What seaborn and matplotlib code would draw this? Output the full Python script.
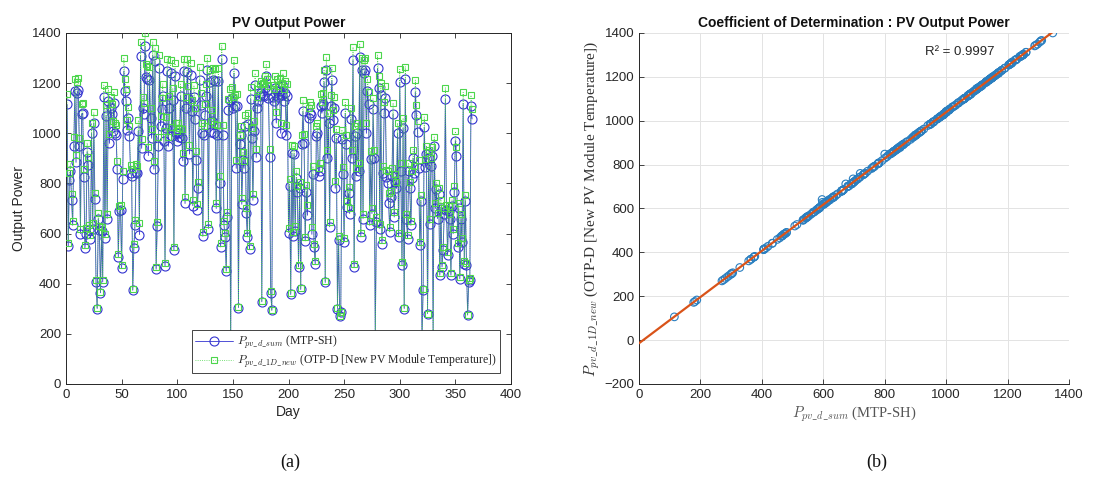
import matplotlib
matplotlib.use('Agg')
import matplotlib.pyplot as plt
import seaborn as sns
import numpy as np

##################################################################################
# data
##################################################################################
DAYS = list(range(1, 366))

# P_pv_d_sum (MTP-SH), one value per day
MTP_SH = [
    1115, 550, 812, 850, 733, 633, 948, 1170, 884, 1160,
    1173, 948, 600, 1075, 1080, 827, 543, 600, 927, 873,
    613, 580, 1000, 620, 1041, 737, 407, 301, 660, 613,
    364, 610, 407, 1144, 584, 1070, 660, 1130, 960, 1100,
    1075, 1010, 1120, 1000, 993, 857, 507, 690, 693, 463,
    817, 1248, 1170, 1130, 1013, 1060, 990, 843, 828, 374,
    543, 633, 844, 840, 1010, 596, 1308, 940, 1100, 1077,
    1347, 1224, 1215, 911, 1213, 1060, 980, 1311, 857, 1288,
    458, 629, 951, 1260, 1030, 1097, 1150, 971, 471, 1020,
    1248, 948, 1100, 1240, 990, 1133, 534, 1227, 1000, 971,
    1000, 985, 1150, 980, 890, 1247, 720, 1100, 1244, 1140,
    917, 1231, 1090, 711, 1144, 1057, 895, 695, 780, 1213,
    1113, 1000, 589, 993, 1071, 1150, 1251, 620, 1204, 1007,
    1050, 1211, 1000, 1207, 700, 993, 1210, 800, 547, 1297,
    993, 633, 587, 450, 666, 1093, 1131, 115, 1140, 1100,
    1240, 1107, 860, 1110, 305, 957, 993, 717, 893, 860,
    1030, 683, 587, 1037, 538, 1137, 983, 733, 1010, 1191,
    904, 1100, 1130, 1148, 1160, 328, 1153, 1150, 1180, 1227,
    1170, 1140, 904, 364, 294, 1144, 1130, 1180, 1041, 1170,
    1144, 1170, 1000, 1153, 1190, 1130, 1160, 993, 1150, 604,
    791, 357, 920, 590, 917, 610, 820, 764, 467, 780,
    377, 957, 1087, 960, 571, 767, 673, 1060, 1080, 1071,
    597, 837, 547, 480, 990, 1000, 831, 850, 1110, 1080,
    1117, 1204, 405, 1251, 900, 1040, 627, 1107, 1211, 1051,
    1100, 781, 980, 301, 576, 270, 288, 977, 837, 567,
    1080, 957, 706, 760, 680, 1057, 900, 1291, 467, 990,
    831, 1000, 850, 1304, 587, 1251, 660, 1240, 1251, 1000,
    1170, 1117, 633, 897, 680, 1095, 900, 182, 646, 1260,
    1181, 620, 1153, 560, 840, 1080, 1141, 824, 800, 720,
    607, 744, 830, 1077, 666, 807, 780, 1000, 587, 1204,
    850, 476, 1020, 301, 1215, 660, 580, 850, 780, 633,
    820, 900, 840, 1164, 1071, 1007, 860, 553, 730, 178,
    374, 1024, 864, 917, 281, 900, 640, 870, 911, 188,
    948, 700, 777, 660, 757, 434, 697, 467, 534, 680,
    1135, 693, 514, 690, 660, 434, 711, 600, 764, 971,
    911, 547, 700, 420, 660, 567, 1117, 480, 731, 474,
    275, 407, 414, 1107, 1057,
]

# P_pv_d_1D_new (OTP-D [New PV Module Temperature]), one value per day
OTP_D = [
    1158, 564, 843, 878, 758, 652, 985, 1218, 915, 1206,
    1222, 983, 619, 1118, 1121, 858, 556, 622, 962, 905,
    634, 595, 1041, 641, 1083, 761, 414, 303, 681, 632,
    368, 628, 416, 1192, 599, 1111, 679, 1178, 997, 1145,
    1116, 1050, 1166, 1040, 1031, 889, 520, 711, 712, 473,
    849, 1299, 1216, 1176, 1054, 1103, 1027, 873, 858, 378,
    558, 654, 877, 870, 1052, 641, 1364, 978, 1146, 1120,
    1400, 1276, 1268, 946, 1264, 1101, 1017, 1366, 889, 1341,
    466, 648, 987, 1312, 1070, 1142, 1197, 1008, 483, 1063,
    1298, 984, 1147, 1293, 1026, 1180, 546, 1279, 1039, 1009,
    1042, 1022, 1196, 1018, 923, 1298, 744, 1144, 1295, 1187,
    952, 1282, 1134, 734, 1191, 1100, 928, 716, 807, 1263,
    1159, 1041, 605, 1030, 1115, 1198, 1302, 638, 1254, 1047,
    1092, 1260, 1038, 1258, 722, 1032, 1261, 829, 561, 1349,
    1031, 651, 603, 459, 686, 1137, 1177, 106, 1186, 1145,
    1291, 1152, 892, 1155, 307, 993, 1030, 741, 926, 891,
    1071, 703, 602, 1079, 551, 1184, 1021, 757, 1049, 1240,
    938, 1144, 1177, 1195, 1207, 331, 1200, 1196, 1229, 1277,
    1218, 1187, 937, 369, 295, 1191, 1176, 1228, 1083, 1217,
    1190, 1219, 1040, 1201, 1239, 1175, 1208, 1031, 1197, 621,
    818, 361, 955, 607, 951, 629, 850, 790, 476, 806,
    382, 994, 1131, 996, 585, 793, 712, 1102, 1123, 1114,
    628, 868, 560, 490, 1028, 1039, 862, 881, 1155, 1124,
    1162, 1254, 412, 1303, 935, 1081, 646, 1152, 1262, 1093,
    1146, 808, 1018, 302, 591, 270, 289, 1014, 867, 582,
    1123, 993, 729, 786, 701, 1099, 934, 1344, 477, 1028,
    861, 1040, 882, 1358, 603, 1302, 680, 1292, 1301, 1041,
    1217, 1163, 652, 930, 702, 1139, 934, 176, 666, 1312,
    1230, 639, 1201, 574, 871, 1123, 1188, 854, 848, 760,
    625, 770, 861, 1121, 686, 836, 806, 1041, 603, 1255,
    880, 486, 1061, 303, 1265, 680, 596, 882, 807, 651,
    850, 935, 871, 1212, 1114, 1047, 892, 567, 754, 172,
    379, 1065, 896, 951, 281, 934, 659, 902, 946, 183,
    985, 722, 803, 681, 782, 442, 735, 476, 548, 700,
    1181, 714, 527, 711, 679, 441, 734, 618, 790, 1008,
    945, 562, 721, 428, 680, 583, 1163, 491, 755, 484,
    275, 414, 421, 1152, 1098,
]

R2_LABEL = 'R² = 0.9997'

##################################################################################
# style
##################################################################################
sns.set_style('white')
plt.rcParams['font.family'] = ['Liberation Sans', 'DejaVu Sans']
plt.rcParams['font.serif'] = ['Liberation Serif', 'DejaVu Serif']
plt.rcParams['mathtext.fontset'] = 'cm'
plt.rcParams['axes.edgecolor'] = '#262626'
plt.rcParams['axes.linewidth'] = 0.7
plt.rcParams['xtick.color'] = '#262626'
plt.rcParams['ytick.color'] = '#262626'

TXT = '#262626'
BLUE = '#3434d0'
GREEN = '#4cd64c'
SCAT = '#2a7fc0'
FIT = '#d95319'

lab_sum = r'$P_{pv\_d\_sum}$ (MTP-SH)'
lab_new = r'$P_{pv\_d\_1D\_new}$ (OTP-D [New PV Module Temperature])'

fig = plt.figure(figsize=(11.02, 4.8), dpi=100)
ax1 = fig.add_axes([0.0599, 0.2, 0.4038, 0.7313])
ax2 = fig.add_axes([0.5799, 0.2, 0.3902, 0.7313])

##################################################################################
# (a) daily output power
##################################################################################
sns.lineplot(x=DAYS, y=MTP_SH, ax=ax1, color=BLUE, lw=0.6, marker='o',
             markersize=6.5, markerfacecolor='none', markeredgecolor=BLUE,
             markeredgewidth=0.8, label=lab_sum, zorder=2)
sns.lineplot(x=DAYS, y=OTP_D, ax=ax1, color=GREEN, lw=0.6, ls=':',
             marker='s', markersize=4.5, markerfacecolor='none',
             markeredgecolor=GREEN, markeredgewidth=0.8, label=lab_new,
             zorder=3)

ax1.set_xlim(0, 400)
ax1.set_ylim(0, 1400)
ax1.set_xticks(np.arange(0, 401, 50))
ax1.set_yticks(np.arange(0, 1401, 200))
ax1.tick_params(direction='in', length=3.5, width=0.6, labelsize=9.5,
                top=True, right=True, bottom=True, left=True,
                labelcolor=TXT)
ax1.set_title('PV Output Power', fontsize=10, fontweight='bold', color='#111111',
              pad=4)
ax1.set_xlabel('Day', fontsize=10, color=TXT, labelpad=3)
ax1.set_ylabel('Output Power', fontsize=10, color=TXT, labelpad=4)
leg = ax1.legend(loc='lower right', bbox_to_anchor=(0.975, 0.031),
                 borderaxespad=0, prop={'family': 'serif', 'size': 8.5},
                 handlelength=3.2, handletextpad=0.4, borderpad=0.25,
                 labelspacing=0.15, fancybox=False, framealpha=1)
leg.get_frame().set_edgecolor('#262626')
leg.get_frame().set_linewidth(0.6)
for t in leg.get_texts():
    t.set_color(TXT)

##################################################################################
# (b) coefficient of determination
##################################################################################
sns.scatterplot(x=MTP_SH, y=OTP_D, ax=ax2, s=30, facecolors='none',
                edgecolor=SCAT, linewidth=0.8, zorder=3)
slope, icpt = np.polyfit(MTP_SH, OTP_D, 1)
fit_x = [0, max(MTP_SH)]
fit_y = [icpt + slope * v for v in fit_x]
sns.lineplot(x=fit_x, y=fit_y, ax=ax2, color=FIT, lw=1.6, zorder=4)

ax2.set_xlim(0, 1400)
ax2.set_ylim(-200, 1400)
ax2.set_xticks(np.arange(0, 1401, 200))
ax2.set_yticks(np.arange(-200, 1401, 200))
ax2.grid(True, color='#e3e3e3', lw=0.7)
ax2.set_axisbelow(True)
sns.despine(ax=ax2)
ax2.tick_params(direction='in', length=3.5, width=0.6, labelsize=9.5,
                bottom=True, left=True, labelcolor=TXT)
ax2.set_title('Coefficient of Determination : PV Output Power', fontsize=10,
              fontweight='bold', color='#111111', pad=4)
ax2.set_xlabel(lab_sum, fontsize=10.5, family='serif', color='#555555',
               labelpad=3)
ax2.set_ylabel(lab_new, fontsize=11, family='serif', color='#333333',
               labelpad=2)
ax2.text(1045, 1313, R2_LABEL, fontsize=9.5, color=TXT, ha='center',
         va='center')

##################################################################################
# panel captions
##################################################################################
fig.text(0.263, 0.037, '(a)', fontsize=13, family='serif', ha='center',
         va='center', color='#111111')
fig.text(0.796, 0.037, '(b)', fontsize=13, family='serif', ha='center',
         va='center', color='#111111')

plt.savefig('out.png', dpi=100)
